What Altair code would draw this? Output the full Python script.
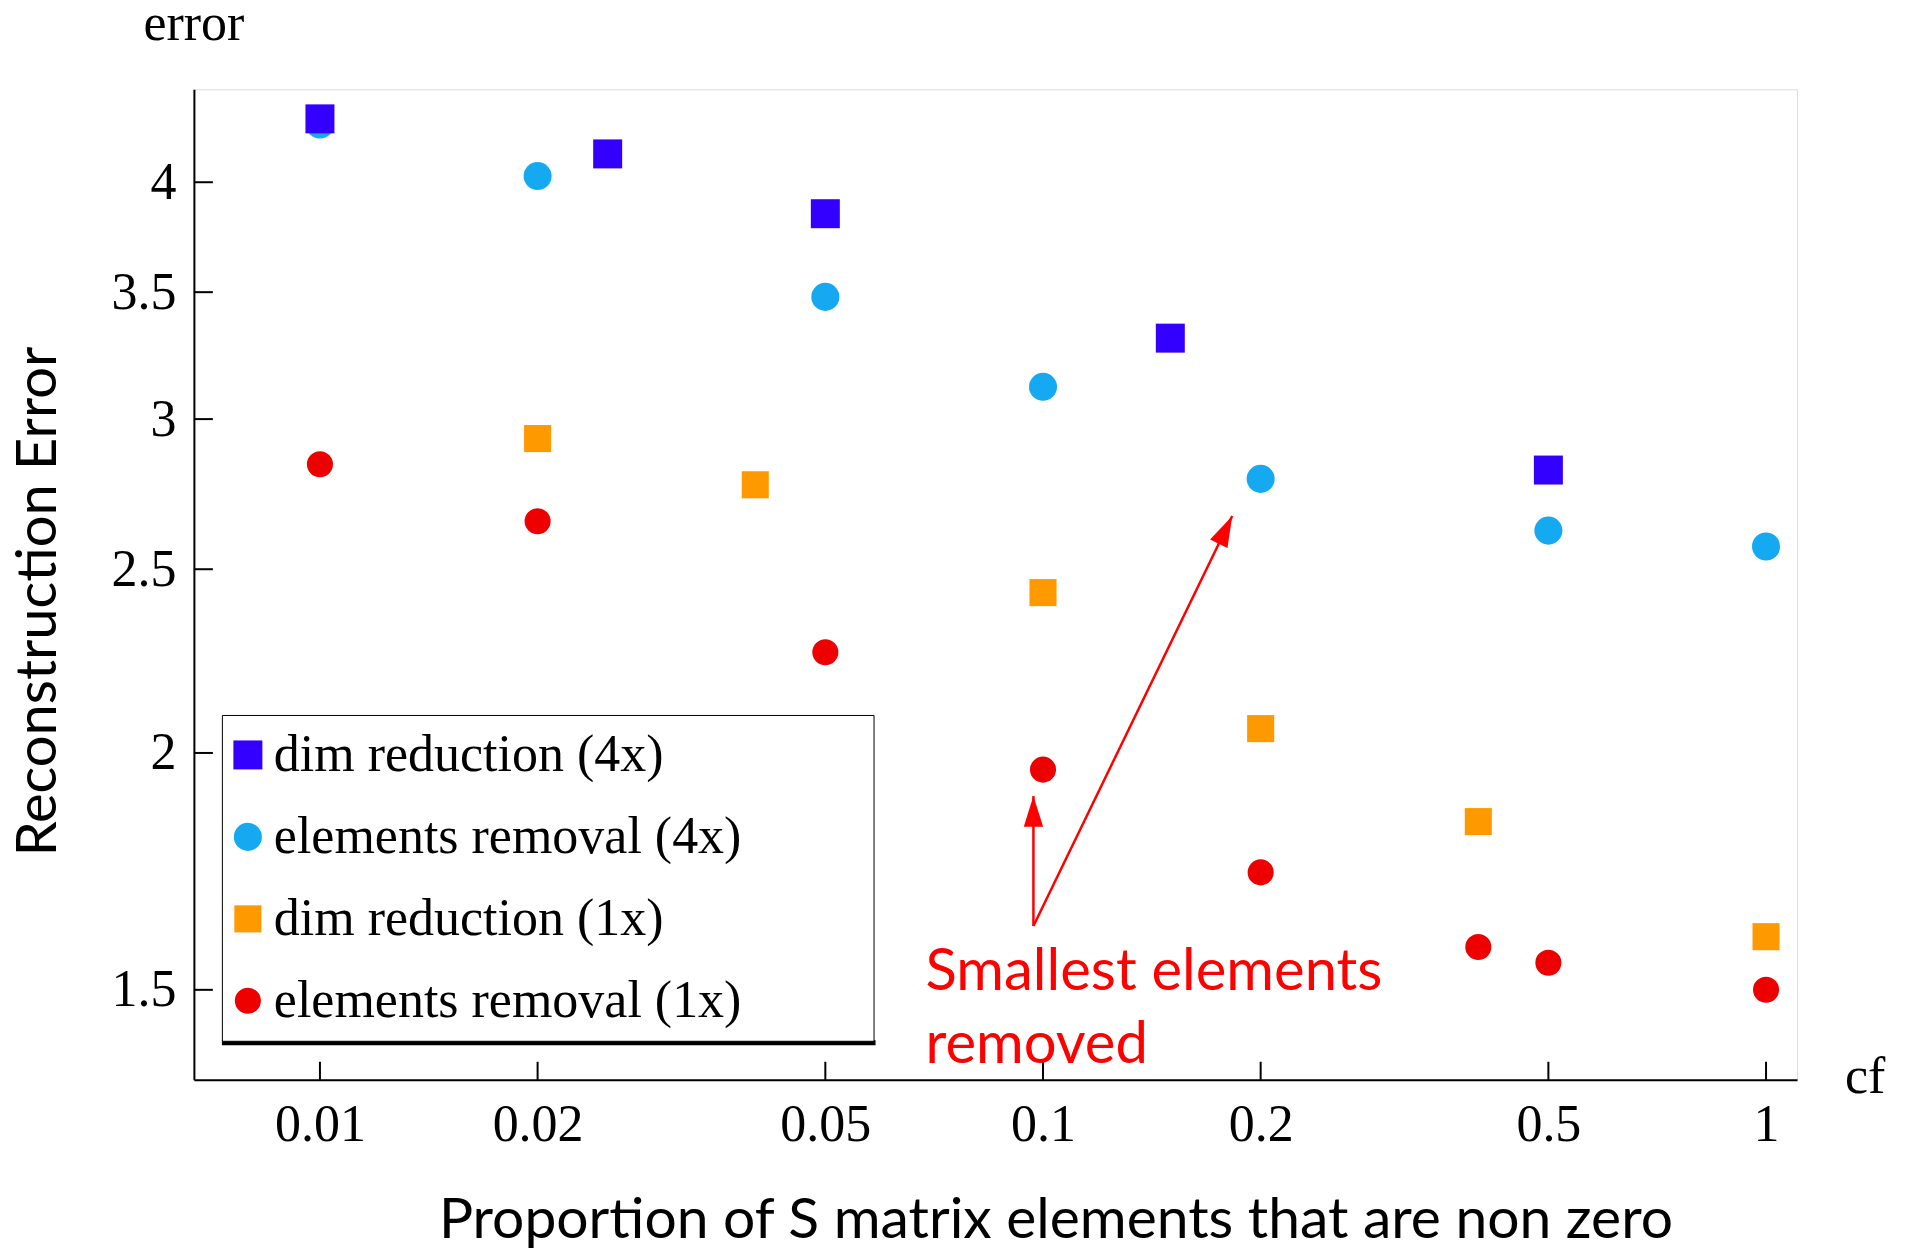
import altair as alt
import pandas as pd

# ---- data ----
series_names = ["dim reduction (4x)", "elements removal (4x)", "dim reduction (1x)", "elements removal (1x)"]
series_colors = ["#3300ff", "#14a9f0", "#ff9900", "#ee0000"]
series_shapes = ["square", "circle", "square", "circle"]
series_sizes = [841, 680, 841, 680]

x_dim4 = [0.01, 0.025, 0.05, 0.15, 0.5]
y_dim4 = [4.32, 4.14, 3.85, 3.31, 2.82]
x_el4 = [0.01, 0.02, 0.05, 0.1, 0.2, 0.5, 1.0]
y_el4 = [4.29, 4.03, 3.48, 3.12, 2.79, 2.62, 2.57]
x_dim1 = [0.02, 0.04, 0.1, 0.2, 0.4, 1.0]
y_dim1 = [2.93, 2.77, 2.43, 2.06, 1.84, 1.60]
x_el1 = [0.01, 0.02, 0.05, 0.1, 0.2, 0.4, 0.5, 1.0]
y_el1 = [2.84, 2.65, 2.26, 1.96, 1.73, 1.58, 1.55, 1.50]

x_ticks = [0.01, 0.02, 0.05, 0.1, 0.2, 0.5, 1]
y_ticks = [1.5, 2, 2.5, 3, 3.5, 4]

# annotation arrows (data coordinates)
arrow_x0 = [0.097, 0.097]
arrow_y0 = [1.621, 1.621]
arrow_x1 = [0.097, 0.1827]
arrow_y1 = [1.898, 2.667]
arrow_angle = [0, 26]
note_text = "Smallest elements\nremoved"
note_x = [0.0688]
note_y = [1.50]

# ---- tables ----
rows = []
order = [("elements removal (4x)", x_el4, y_el4), ("dim reduction (4x)", x_dim4, y_dim4),
         ("dim reduction (1x)", x_dim1, y_dim1), ("elements removal (1x)", x_el1, y_el1)]
for name, xs, ys in order:
    for xv, yv in zip(xs, ys):
        rows.append({"series": name, "cf": xv, "err": yv})
df = pd.DataFrame(rows)

W, H = 1604, 991
SERIF = "Liberation Serif"
SANS = "Lato"

xscale = alt.Scale(type="log", domain=[0.006694, 1.1038], nice=False)
yscale = alt.Scale(type="log", domain=[1.3448, 4.478], nice=False)

leg = alt.Legend(
    title="MMMM", titleOrient="right", titleColor="white", titleFontSize=31,
    titlePadding=0, titleFont=SERIF,
    orient="none", legendX=28, legendY=626,
    strokeColor="black", fillColor="white", padding=14,
    labelFont=SERIF, labelFontSize=52, labelColor="black",
    labelOffset=0, symbolOffset={"expr": "-14"},
    rowPadding=30, symbolSize=700, symbolStrokeWidth=0,
    symbolOpacity=1, labelLimit=2000,
)

points = alt.Chart(df).mark_point(filled=True, opacity=1).encode(
    x=alt.X("cf:Q", scale=xscale, axis=alt.Axis(
        values=x_ticks, format="~g", labelFont=SERIF, labelFontSize=52, labelColor="black",
        ticks=False, tickSize=0, labelPadding=20, domainColor="black", domainWidth=2,
        grid=False, labelFlush=False, labelOverlap=False,
        title="Proportion of S matrix elements that are non zero", titleFont=SANS,
        titleFontSize=57, titleFontWeight="normal", titleColor="black",
        titleX=862, titleY=141, titleAlign="center", titleBaseline="middle")),
    y=alt.Y("err:Q", scale=yscale, axis=alt.Axis(
        values=y_ticks, format="~g", labelFont=SERIF, labelFontSize=52, labelColor="black",
        ticks=False, tickSize=0, labelPadding=18, domainColor="black", domainWidth=2,
        grid=False, labelFlush=False, labelOverlap=False,
        title="Reconstruction Error", titleFont=SANS, titleFontSize=56,
        titleFontWeight="normal", titleColor="black", titleAngle=270,
        titleX=-155, titleY=512, titleAlign="center", titleBaseline="middle")),
    color=alt.Color("series:N", scale=alt.Scale(domain=series_names, range=series_colors), legend=leg),
    shape=alt.Shape("series:N", scale=alt.Scale(domain=series_names, range=series_shapes), legend=leg),
    size=alt.Size("series:N", scale=alt.Scale(domain=series_names, range=series_sizes), legend=None),
)

xt = alt.Chart(pd.DataFrame({"cf": x_ticks})).mark_rule(color="black", strokeWidth=2).encode(
    x=alt.X("cf:Q", scale=xscale), y=alt.value(H), y2=alt.value(H - 18))
yt = alt.Chart(pd.DataFrame({"err": y_ticks})).mark_rule(color="black", strokeWidth=2).encode(
    y=alt.Y("err:Q", scale=yscale), x=alt.value(0), x2=alt.value(19))

adf = pd.DataFrame({"cf": arrow_x0, "err": arrow_y0, "cf2": arrow_x1, "err2": arrow_y1, "ang": arrow_angle})
lines = alt.Chart(adf).mark_rule(color="#ff0000", strokeWidth=2.5).encode(
    x=alt.X("cf:Q", scale=xscale), y=alt.Y("err:Q", scale=yscale), x2="cf2:Q", y2="err2:Q")
heads = alt.Chart(adf).mark_point(
    filled=True, opacity=1, color="#ff0000", size=520,
    shape="M0,0 L-0.85,2.7 L0.85,2.7 Z").encode(
    x=alt.X("cf2:Q", scale=xscale), y=alt.Y("err2:Q", scale=yscale),
    angle=alt.Angle("ang:Q", scale=None))

note = alt.Chart(pd.DataFrame({"cf": note_x, "err": note_y, "t": [note_text]})).mark_text(
    align="left", baseline="alphabetic", font=SANS, fontSize=58, color="#ff0000",
    lineBreak="\n", lineHeight=73).encode(
    x=alt.X("cf:Q", scale=xscale), y=alt.Y("err:Q", scale=yscale), text="t:N")

lab_err = alt.Chart(pd.DataFrame({"t": ["error"]})).mark_text(
    align="center", baseline="alphabetic", font=SERIF, fontSize=52, color="black").encode(
    text="t:N", x=alt.value(0), y=alt.value(-49))
lab_cf = alt.Chart(pd.DataFrame({"t": ["cf"]})).mark_text(
    align="left", baseline="alphabetic", font=SERIF, fontSize=52, color="black").encode(
    text="t:N", x=alt.value(1652), y=alt.value(1004))

# heavier bottom edge of the legend frame
leg_edge = alt.Chart(pd.DataFrame({"t": ["edge"]})).mark_rule(color="black", strokeWidth=5).encode(
    x=alt.value(28), x2=alt.value(682), y=alt.value(954))

chart = alt.layer(points, xt, yt, lines, heads, note, lab_err, lab_cf, leg_edge).properties(
    width=W, height=H,
    autosize=alt.AutoSizeParams(type="none"),
    padding={"left": 186, "top": 81, "right": 100, "bottom": 170},
).configure_view(stroke=None).configure(background="white")

chart.save("out.html", embed_options={"renderer": "svg", "actions": False})
